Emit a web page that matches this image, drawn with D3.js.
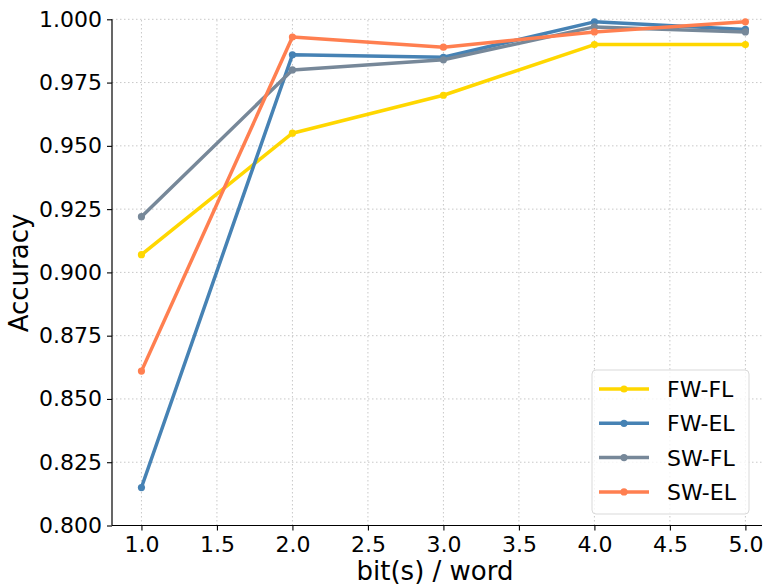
<!DOCTYPE html>
<html>
<head>
<meta charset="utf-8">
<script src="https://cdn.jsdelivr.net/npm/d3@7"></script>
<style>
  body { margin: 0; background: #fff; }
  text { font-family: "DejaVu Sans", sans-serif; }
</style>
</head>
<body>
<div id="chart"></div>
<script>
// data
var bits = [1, 2, 3, 4, 5];
var seriesNames = ["FW-FL", "FW-EL", "SW-FL", "SW-EL"];
var seriesColors = ["#FFD700", "#4682B4", "#778899", "#FF7F50"];
var fwfl = [0.907, 0.955, 0.970, 0.990, 0.990];
var fwel = [0.815, 0.986, 0.985, 0.999, 0.996];
var swfl = [0.922, 0.980, 0.984, 0.997, 0.995];
var swel = [0.861, 0.993, 0.989, 0.995, 0.999];
var xTicks = [1.0, 1.5, 2.0, 2.5, 3.0, 3.5, 4.0, 4.5, 5.0];
var yTicks = [0.800, 0.825, 0.850, 0.875, 0.900, 0.925, 0.950, 0.975, 1.000];

var width = 767,
height = 586;

var svg = d3.select("#chart").append("svg")
.attr("width", width)
.attr("height", height);

var x = d3.scaleLinear().domain([0.805, 5.11]).range([112, 762]);
var y = d3.scaleLinear().domain([0.8, 1.0]).range([525.5, 19.3]);

// grid
var grid = svg.append("g");
grid.selectAll("line.gx").data(xTicks).enter().append("line")
.attr("x1", function(d){return x(d)}).attr("x2", function(d){return x(d)})
.attr("y1", y(0.8)).attr("y2", y(1.0))
.attr("stroke", "#c8c8c8").attr("stroke-width", 1)
.attr("stroke-dasharray", "1.5,2.5");
grid.selectAll("line.gy").data(yTicks).enter().append("line")
.attr("y1", function(d){return y(d)}).attr("y2", function(d){return y(d)})
.attr("x1", 112).attr("x2", 762)
.attr("stroke", "#c8c8c8").attr("stroke-width", 1)
.attr("stroke-dasharray", "1.5,2.5");

// axes
var xAxis = d3.axisBottom(x).tickValues(xTicks).tickFormat(d3.format(".1f")).tickSize(5).tickPadding(6);
var yAxis = d3.axisLeft(y).tickValues(yTicks).tickFormat(d3.format(".3f")).tickSize(5).tickPadding(5);

var gx = svg.append("g").attr("transform", "translate(0," + y(0.8) + ")").call(xAxis);
var gy = svg.append("g").attr("transform", "translate(112,0)").call(yAxis);
[gx, gy].forEach(function(g) {
	g.select(".domain").attr("stroke", "#000").attr("stroke-width", 1.2);
	g.selectAll(".tick line").attr("stroke", "#000").attr("stroke-width", 1.1);
	g.selectAll(".tick text").attr("fill", "#000")
	.style("font-family", "DejaVu Sans").style("font-size", "22px");
});
gx.select(".domain").attr("d", "M112,0H762");
gy.select(".domain").attr("d", "M0," + y(0.8) + "V" + y(1.0));

// series
var data = [fwfl, fwel, swfl, swel].map(function(vals, i) {
	return {name: seriesNames[i], color: seriesColors[i],
		values: vals.map(function(v, j){return {x: bits[j], y: v}})};
});

var line = d3.line().x(function(d){return x(d.x)}).y(function(d){return y(d.y)});

var sg = svg.selectAll("g.series").data(data).enter().append("g").attr("class", "series");
sg.append("path")
.attr("d", function(d){return line(d.values)})
.attr("fill", "none")
.attr("stroke", function(d){return d.color})
.attr("stroke-width", 3.5)
.attr("stroke-linejoin", "round");
sg.selectAll("circle").data(function(d){return d.values.map(function(v){return {x: v.x, y: v.y, c: d.color}})})
.enter().append("circle")
.attr("cx", function(d){return x(d.x)})
.attr("cy", function(d){return y(d.y)})
.attr("r", 3.6)
.attr("fill", function(d){return d.c});

// axis labels
svg.append("text")
.attr("x", 435).attr("y", 580)
.attr("text-anchor", "middle")
.style("font-size", "26px")
.text("bit(s) / word");

svg.append("text")
.attr("transform", "translate(28,273) rotate(-90)")
.attr("text-anchor", "middle")
.style("font-size", "26px")
.text("Accuracy");

// legend
var lg = svg.append("g");
lg.append("rect")
.attr("x", 592).attr("y", 370).attr("width", 157).attr("height", 144)
.attr("rx", 4).attr("ry", 4)
.attr("fill", "#fff").attr("fill-opacity", 0.8)
.attr("stroke", "#d9d9d9").attr("stroke-width", 1);

var item = lg.selectAll("g.item").data(data).enter().append("g")
.attr("transform", function(d, i){return "translate(0," + (389 + i * 34.3) + ")"});
item.append("line")
.attr("x1", 599).attr("x2", 649).attr("y1", 0).attr("y2", 0)
.attr("stroke", function(d){return d.color}).attr("stroke-width", 3.5);
item.append("circle")
.attr("cx", 624).attr("cy", 0).attr("r", 3.6)
.attr("fill", function(d){return d.color});
item.append("text")
.attr("x", 667).attr("y", 8)
.style("font-size", "22px")
.text(function(d){return d.name});
</script>
</body>
</html>
